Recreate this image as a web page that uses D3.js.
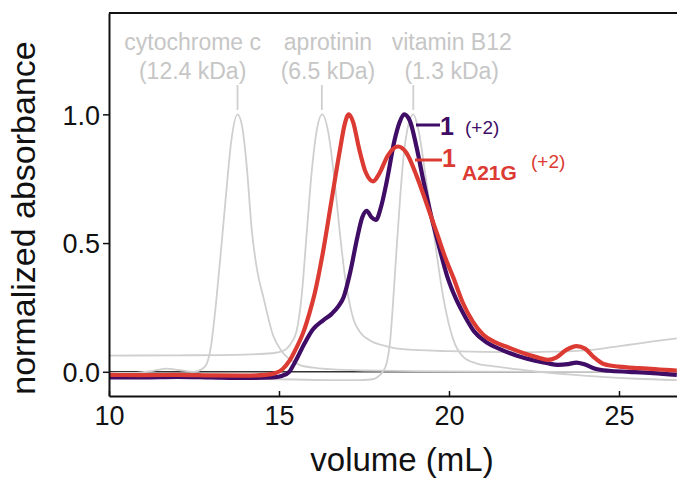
<!doctype html>
<html>
<body>
<style type="text/css">
    html,body{
        margin: 0;
        overflow: hidden;
        background: #fff;
    }
    text {
        font-family: "Liberation Sans", Arial, sans-serif;
    }
</style>
<script src="https://cdn.jsdelivr.net/npm/d3@7"></script>
<script type="text/javascript">
// traces: [volume (mL), normalized absorbance]
var peptide1 = [
    [10, -0.022], [11, -0.022], [12, -0.02], [13, -0.022], [14, -0.024], [14.8, -0.022],
    [15.1, -0.015], [15.3, 0.0], [15.5, 0.045], [15.75, 0.11], [16.0, 0.165], [16.3, 0.2],
    [16.55, 0.225], [16.75, 0.255], [16.9, 0.29], [17.1, 0.39], [17.3, 0.52], [17.45, 0.6],
    [17.58, 0.625], [17.72, 0.6], [17.85, 0.59], [18.0, 0.64], [18.17, 0.74], [18.4, 0.9],
    [18.55, 0.97], [18.68, 1.0], [18.85, 0.975], [19.05, 0.87], [19.25, 0.74], [19.45, 0.62],
    [19.7, 0.49], [19.95, 0.37], [20.2, 0.285], [20.45, 0.22], [20.75, 0.155], [21.1, 0.115],
    [21.5, 0.088], [22, 0.062], [22.5, 0.044], [22.9, 0.033], [23.2, 0.027], [23.5, 0.03],
    [23.75, 0.036], [24.0, 0.028], [24.3, 0.012], [24.7, 0.004], [25.3, 0.0], [26, -0.005],
    [26.7, -0.012]
];
var peptideA21G = [
    [10, -0.012], [11, -0.013], [12, -0.012], [13, -0.014], [14, -0.015], [14.6, -0.012],
    [14.9, -0.005], [15.1, 0.01], [15.32, 0.045], [15.5, 0.09], [15.72, 0.155], [15.9, 0.23],
    [16.06, 0.31], [16.3, 0.47], [16.55, 0.67], [16.79, 0.86], [16.93, 0.96], [17.05, 1.0],
    [17.18, 0.97], [17.35, 0.87], [17.55, 0.775], [17.77, 0.74], [17.95, 0.77], [18.2, 0.84],
    [18.5, 0.875], [18.75, 0.85], [19.05, 0.76], [19.35, 0.65], [19.64, 0.54], [19.9, 0.44],
    [20.13, 0.365], [20.4, 0.27], [20.7, 0.195], [21.0, 0.145], [21.35, 0.115], [21.7, 0.097],
    [22.2, 0.072], [22.6, 0.056], [22.9, 0.046], [23.15, 0.055], [23.45, 0.085], [23.75, 0.1],
    [24.0, 0.09], [24.25, 0.058], [24.55, 0.03], [25, 0.02], [25.6, 0.014], [26.2, 0.009],
    [26.7, 0.005]
];
var cytochromeC = [
    [10, -0.004], [10.8, -0.004], [11.3, 0.004], [11.7, 0.012], [12.1, 0.006], [12.5, 0.0],
    [12.75, 0.012], [12.87, 0.03], [13.0, 0.1], [13.15, 0.27], [13.3, 0.48], [13.45, 0.7],
    [13.6, 0.9], [13.78, 1.0], [13.92, 0.95], [14.05, 0.8], [14.2, 0.55], [14.35, 0.4],
    [14.54, 0.29], [14.83, 0.14], [15.05, 0.085], [15.23, 0.058], [15.6, 0.027], [16.0, 0.016],
    [16.5, 0.01], [17.5, 0.005], [20, 0.002], [23, 0.0], [26.7, 0.0]
];
var aprotinin = [
    [10, 0.063], [12, 0.064], [14, 0.067], [14.8, 0.072], [15.1, 0.08], [15.35, 0.11],
    [15.52, 0.16], [15.67, 0.3], [15.81, 0.53], [15.95, 0.76], [16.1, 0.93], [16.27, 1.0],
    [16.45, 0.93], [16.62, 0.76], [16.79, 0.54], [16.93, 0.38], [17.04, 0.29], [17.2, 0.2],
    [17.38, 0.155], [17.7, 0.12], [18.0, 0.105], [18.4, 0.092], [19.0, 0.085], [20, 0.08],
    [21, 0.077], [22, 0.076], [23, 0.078], [24, 0.083], [24.6, 0.092], [25.3, 0.105],
    [26, 0.118], [26.7, 0.13]
];
var vitaminB12 = [
    [10, -0.022], [12, -0.024], [14, -0.027], [15.5, -0.03], [16.5, -0.032], [17.3, -0.032],
    [17.7, -0.03], [17.9, -0.02], [18.05, 0.0], [18.17, 0.035], [18.27, 0.12], [18.36, 0.28],
    [18.46, 0.48], [18.56, 0.67], [18.66, 0.83], [18.76, 0.93], [18.95, 1.0], [19.1, 0.94],
    [19.3, 0.77], [19.54, 0.55], [19.83, 0.29], [20.13, 0.123], [20.42, 0.058], [20.8, 0.033],
    [21.4, 0.02], [22, 0.01], [22.5, 0.002], [23.5, -0.01], [24.5, -0.02], [25.5, -0.027],
    [26.7, -0.032]
];

// standards annotation
var stdNames = ["cytochrome c", "aprotinin", "vitamin B12"];
var stdMass = ["(12.4 kDa)", "(6.5 kDa)", "(1.3 kDa)"];
var stdPeak = [13.78, 16.26, 18.95];
var stdLabelAt = [12.46, 16.44, 20.08];

var xTicks = [10, 15, 20, 25];
var yTicks = [0, 0.5, 1.0];

(function(){
    var w = 677, h = 478,
        left = 109, right = 677, top = 13, bottom = 396;

    var x = d3.scaleLinear().domain([10, 26.706]).range([left, right]);
    var y = d3.scaleLinear().domain([-0.094, 1.3936]).range([bottom, top]);

    var svg = d3.select("body").append("svg")
        .attr("width", w)
        .attr("height", h);

    svg.append("clipPath").attr("id", "plot")
        .append("rect")
        .attr("x", left).attr("y", top)
        .attr("width", right - left).attr("height", bottom - top);

    var line = d3.line()
        .x(function(d){return x(d[0])})
        .y(function(d){return y(d[1])})
        .curve(d3.curveMonotoneX);

    var plot = svg.append("g").attr("clip-path", "url(#plot)");

    // zero line
    plot.append("line")
        .attr("x1", left).attr("x2", right)
        .attr("y1", y(0)).attr("y2", y(0))
        .attr("stroke", "#333").attr("stroke-width", 1.5);

    [cytochromeC, aprotinin, vitaminB12].forEach(function(s){
        plot.append("path").datum(s)
            .attr("d", line)
            .attr("fill", "none")
            .attr("stroke", "#cfcfcf")
            .attr("stroke-width", 1.8);
    });

    plot.append("path").datum(peptide1)
        .attr("d", line)
        .attr("fill", "none")
        .attr("stroke", "#3f0c66")
        .attr("stroke-width", 4.2)
        .attr("stroke-linejoin", "round");

    plot.append("path").datum(peptideA21G)
        .attr("d", line)
        .attr("fill", "none")
        .attr("stroke", "#dc3b33")
        .attr("stroke-width", 4.2)
        .attr("stroke-linejoin", "round");

    // standards labels
    var std = svg.append("g").selectAll("g").data(stdNames).enter().append("g");
    std.append("line")
        .attr("x1", function(d,i){return x(stdPeak[i])})
        .attr("x2", function(d,i){return x(stdPeak[i])})
        .attr("y1", 85).attr("y2", 110)
        .attr("stroke", "#cfcfcf").attr("stroke-width", 1.8);
    std.append("text")
        .attr("x", function(d,i){return x(stdLabelAt[i])})
        .attr("y", 50)
        .attr("text-anchor", "middle")
        .attr("fill", "#c6c6c6")
        .style("font-size", "23px")
        .text(function(d){return d});
    std.append("text")
        .attr("x", function(d,i){return x(stdLabelAt[i])})
        .attr("y", 79)
        .attr("text-anchor", "middle")
        .attr("fill", "#c6c6c6")
        .style("font-size", "23px")
        .text(function(d,i){return stdMass[i]});

    // axes
    var xAxis = svg.append("g")
        .attr("transform", "translate(0," + bottom + ")")
        .call(d3.axisBottom(x).tickValues(xTicks).tickSizeInner(-5).tickSizeOuter(0).tickPadding(10).tickFormat(d3.format("d")));
    xAxis.select(".domain").attr("stroke", "#111").attr("stroke-width", 2);
    xAxis.selectAll(".tick line").attr("stroke", "#111").attr("stroke-width", 1.5);
    xAxis.selectAll("text").attr("fill", "#111").style("font-size", "27px")
        .attr("font-family", null);

    var yAxis = svg.append("g")
        .attr("transform", "translate(" + left + ",0)")
        .call(d3.axisLeft(y).tickValues(yTicks).tickSizeInner(6).tickSizeOuter(0).tickPadding(3).tickFormat(d3.format(".1f")));
    yAxis.select(".domain").attr("stroke", "#111").attr("stroke-width", 2);
    yAxis.selectAll(".tick line").attr("stroke", "#111").attr("stroke-width", 1.5);
    yAxis.selectAll("text").attr("fill", "#111").style("font-size", "27px")
        .attr("dy", "0.36em").attr("font-family", null);

    // top frame
    svg.append("line")
        .attr("x1", left).attr("x2", right)
        .attr("y1", top).attr("y2", top)
        .attr("stroke", "#111").attr("stroke-width", 2);

    svg.append("text")
        .attr("x", (left + right) / 2 + 9)
        .attr("y", 471)
        .attr("text-anchor", "middle")
        .attr("fill", "#111")
        .style("font-size", "33px")
        .text("volume (mL)");

    svg.append("text")
        .attr("transform", "translate(35,218) rotate(-90)")
        .attr("text-anchor", "middle")
        .attr("fill", "#111")
        .style("font-size", "34px")
        .text("normalized absorbance");

    // legend
    var leg1 = svg.append("g").attr("fill", "#3f0c66");
    leg1.append("line").attr("x1", 416).attr("x2", 440).attr("y1", 125).attr("y2", 125)
        .attr("stroke", "#3f0c66").attr("stroke-width", 3);
    leg1.append("text").attr("x", 440).attr("y", 135)
        .style("font-size", "25px").style("font-weight", "bold").text("1");
    leg1.append("text").attr("x", 465).attr("y", 134)
        .style("font-size", "19px").text("(+2)");

    var leg2 = svg.append("g").attr("fill", "#dc3b33");
    leg2.append("line").attr("x1", 415).attr("x2", 442).attr("y1", 160).attr("y2", 160)
        .attr("stroke", "#dc3b33").attr("stroke-width", 3);
    leg2.append("text").attr("x", 442).attr("y", 167)
        .style("font-size", "25px").style("font-weight", "bold").text("1");
    leg2.append("text").attr("x", 462).attr("y", 180)
        .style("font-size", "21px").style("font-weight", "bold").text("A21G");
    leg2.append("text").attr("x", 531).attr("y", 168)
        .style("font-size", "19px").text("(+2)");
})();
</script>
</body>
</html>
